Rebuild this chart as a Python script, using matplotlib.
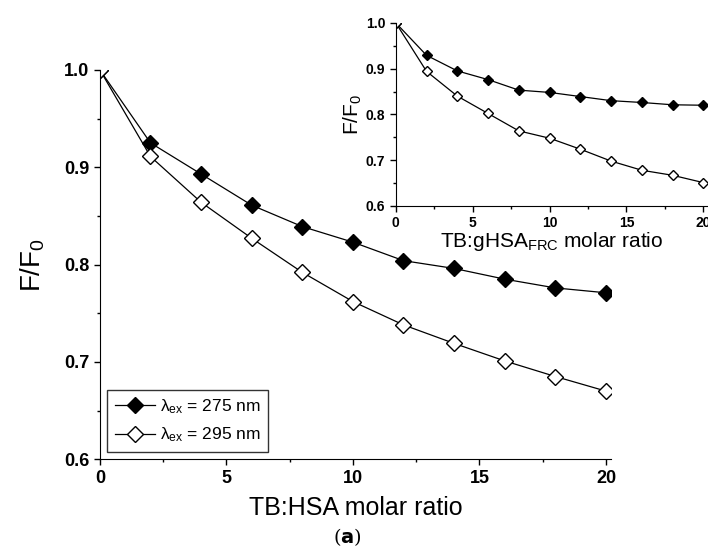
import matplotlib.pyplot as plt

# main panel: TB:HSA
ratio = [0, 2, 4, 6, 8, 10, 12, 14, 16, 18, 20]
f275 = [1.0, 0.925, 0.893, 0.861, 0.839, 0.823, 0.804, 0.796, 0.785, 0.776, 0.771]
f295 = [1.0, 0.911, 0.864, 0.827, 0.792, 0.762, 0.738, 0.719, 0.701, 0.685, 0.670]

# inset: TB:gHSA_FRC
ins275 = [1.0, 0.929, 0.895, 0.876, 0.853, 0.848, 0.839, 0.830, 0.826, 0.821, 0.820]
ins295 = [1.0, 0.894, 0.840, 0.802, 0.764, 0.748, 0.724, 0.698, 0.678, 0.667, 0.651]

labels = [r'$\lambda_{ex}$ = 275 nm', r'$\lambda_{ex}$ = 295 nm']

plt.rcParams['font.family'] = ['Liberation Sans', 'DejaVu Sans']
plt.rcParams['mathtext.fontset'] = 'custom'
plt.rcParams['mathtext.rm'] = 'Liberation Sans'
plt.rcParams['mathtext.it'] = 'Liberation Sans'

fig = plt.figure(figsize=(7.08, 5.5), dpi=100)


def style(ax, fs):
    ax.spines['top'].set_visible(False)
    ax.spines['right'].set_visible(False)
    ax.set_xticks([0, 5, 10, 15, 20])
    ax.set_xticks([2.5, 7.5, 12.5, 17.5], minor=True)
    ax.set_yticks([0.6, 0.7, 0.8, 0.9, 1.0])
    ax.set_yticks([0.65, 0.75, 0.85, 0.95], minor=True)
    ax.tick_params(direction='out', length=4, width=1, labelsize=fs)
    ax.tick_params(which='minor', direction='out', length=2.5, width=1)
    for lab in ax.get_xticklabels() + ax.get_yticklabels():
        lab.set_fontweight('bold')


ax = fig.add_axes([0.141, 0.165, 0.722, 0.708])
ax.plot(ratio, f275, '-', color='black', lw=0.9, marker='D', ms=8,
        mfc='black', mec='black', label=labels[0])
ax.plot(ratio, f295, '-', color='black', lw=0.9, marker='D', ms=8,
        mfc='white', mec='black', label=labels[1])
ax.set_xlim(0, 20.2)
ax.set_ylim(0.6, 1.0)
style(ax, 13)
ax.set_xlabel('TB:HSA molar ratio', fontsize=18, labelpad=7)
ax.set_ylabel(r'F/F$_0$', fontsize=20, labelpad=12)
leg = ax.legend(loc='lower left', fontsize=12.5, frameon=True, fancybox=False,
                edgecolor='black', borderaxespad=0.4, handlelength=2.3,
                handletextpad=0.3, borderpad=0.45, labelspacing=0.55)
leg.get_frame().set_linewidth(1)

axi = fig.add_axes([0.559, 0.6255, 0.441, 0.333])
axi.plot(ratio, ins275, '-', color='black', lw=0.9, marker='D', ms=5,
         mfc='black', mec='black')
axi.plot(ratio, ins295, '-', color='black', lw=0.9, marker='D', ms=5,
         mfc='white', mec='black')
axi.set_xlim(0, 20.3)
axi.set_ylim(0.6, 1.0)
style(axi, 10)
axi.set_xlabel(r'TB:gHSA$_{FRC}$ molar ratio', fontsize=15, labelpad=0)
axi.set_ylabel(r'F/F$_0$', fontsize=15, labelpad=1)

fig.text(0.49, 0.012, r'($\mathbf{a}$)', fontsize=14, family='DejaVu Serif', ha='center')

fig.savefig('out.png', dpi=100)
